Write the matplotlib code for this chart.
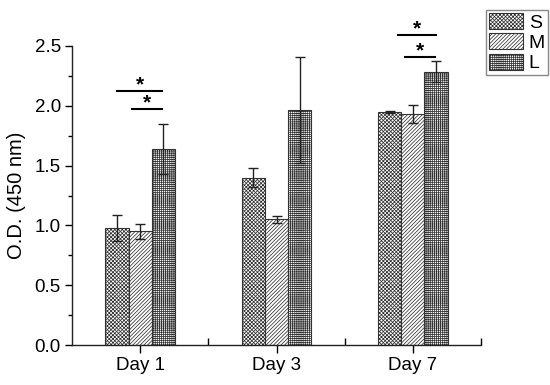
import matplotlib
matplotlib.use("Agg")
import matplotlib.pyplot as plt
from matplotlib.patches import Patch
from matplotlib.ticker import MultipleLocator, FixedLocator

plt.rcParams['font.family'] = ['Liberation Sans', 'DejaVu Sans']
plt.rcParams['hatch.linewidth'] = 0.55
plt.rcParams['hatch.color'] = '#444444'

categories = ['Day 1', 'Day 3', 'Day 7']
series = ['S', 'M', 'L']
values_S = [0.98, 1.40, 1.95]
values_M = [0.95, 1.05, 1.93]
values_L = [1.64, 1.965, 2.285]
err_S = [0.11, 0.08, 0.01]
err_M = [0.065, 0.03, 0.075]
err_L = [0.21, 0.44, 0.09]
# significance brackets: (x start, x end, y level)
brackets = [(0.83, 1.16, 2.12), (0.94, 1.16, 1.97),
            (2.89, 3.17, 2.59), (2.94, 3.16, 2.41)]

hatches = ['xxxxxxxxx', '/////////', '++++++++']
all_vals = [values_S, values_M, values_L]
all_errs = [err_S, err_M, err_L]

fig = plt.figure(figsize=(5.5, 3.85), dpi=100)
ax = fig.add_axes([72/550, 40/385, (481-72)/550, (345-46)/385])

w = 0.17
xs = [1, 2, 3]
handles = []
for i, (vals, errs, h, lab) in enumerate(zip(all_vals, all_errs, hatches, series)):
    pos = [x + (i - 1) * w for x in xs]
    ax.bar(pos, vals, width=w, color='white', edgecolor='#333333',
           hatch=h, linewidth=0.8, zorder=2)
    ax.errorbar(pos, vals, yerr=errs, fmt='none', ecolor='#222222',
                elinewidth=1.0, capsize=3.6, capthick=1.0, zorder=3)
    handles.append(Patch(facecolor='white', edgecolor='#333333', hatch=h,
                         linewidth=0.8, label=lab))

for x0, x1, y in brackets:
    ax.plot([x0, x1], [y, y], color='black', lw=1.5, clip_on=False, zorder=4)
    ax.annotate('*', xy=((x0 + x1) / 2, y), xytext=(0, 0.6), textcoords='offset points',
                ha='center', va='baseline', fontsize=15, fontweight='bold',
                annotation_clip=False)

ax.set_xlim(0.5, 3.5)
ax.set_ylim(0, 2.5)
ax.set_xticks(xs)
ax.set_xticklabels(categories, fontsize=13.5)
ax.xaxis.set_minor_locator(FixedLocator([1.5, 2.5, 3.5]))
ax.yaxis.set_minor_locator(MultipleLocator(0.25))
ax.set_yticks([0, 0.5, 1.0, 1.5, 2.0, 2.5])
ax.set_yticklabels(['0.0', '0.5', '1.0', '1.5', '2.0', '2.5'], fontsize=13.5)
ax.tick_params(axis='x', which='major', direction='out', length=6, width=1, pad=3)
ax.tick_params(axis='x', which='minor', direction='in', length=5, width=1)
ax.tick_params(axis='y', which='major', direction='out', length=5, width=1, pad=3)
ax.tick_params(axis='y', which='minor', direction='out', length=3, width=1)
ax.spines['top'].set_visible(False)
ax.spines['right'].set_visible(False)
for s in ['left', 'bottom']:
    ax.spines[s].set_linewidth(1.0)
    ax.spines[s].set_color('#222222')
ax.set_ylabel('O.D. (450 nm)', fontsize=14.5, labelpad=6)

leg = fig.legend(handles=handles, loc='upper right',
                 bbox_to_anchor=(548/550, 1 - 10/385), bbox_transform=fig.transFigure,
                 fontsize=14, handlelength=1.75, handleheight=0.9, labelspacing=0.08,
                 handletextpad=0.3, borderpad=0.15, borderaxespad=0,
                 fancybox=False, framealpha=1, edgecolor='#888888')
leg.get_frame().set_linewidth(1.0)

fig.savefig('out.png', dpi=100)
